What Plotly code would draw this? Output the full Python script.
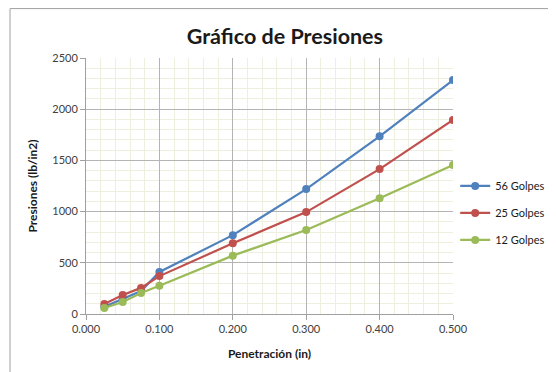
import plotly.graph_objects as go

penetracion = [0.025, 0.050, 0.075, 0.100, 0.200, 0.300, 0.400, 0.500]
golpes_56 = [70, 145, 225, 410, 770, 1220, 1735, 2285]
golpes_25 = [98, 186, 255, 370, 690, 995, 1415, 1895]
golpes_12 = [58, 117, 205, 275, 570, 820, 1130, 1455]

series = [
	("56 Golpes", golpes_56, "#4F81BD"),
	("25 Golpes", golpes_25, "#C0504D"),
	("12 Golpes", golpes_12, "#9BBB59"),
]

font_family = "Lato, 'Open Sans', sans-serif"

fig = go.Figure()

for i, (name, values, color) in enumerate(series):
	fig.add_trace(go.Scatter(
		x=penetracion, y=values,
		mode='lines+markers',
		name=name,
		legendgroup=str(i),
		line=dict(color=color, width=2.2),
		marker=dict(color=color, size=8)
	))

# the page body adds an 8px offset, so the figure is a bit bigger than the window
fig.update_layout(
	width=564, height=380,
	paper_bgcolor="white",
	plot_bgcolor="white",
	margin=dict(l=78, r=119, t=50, b=74),
	font=dict(family=font_family, size=11, color="#404040"),
	title=dict(
		text="<b>Gráfico de Presiones</b>",
		x=0.491, xanchor="center",
		y=0.924, yanchor="middle",
		font=dict(size=21.5, color="#1a1a1a")
	),
	legend=dict(
		x=1.006, xanchor="left",
		y=0.395, yanchor="middle",
		font=dict(size=11, color="#1a1a1a"),
		itemwidth=30,
		tracegroupgap=8,
		borderwidth=0,
		bgcolor="rgba(0,0,0,0)"
	),
	shapes=[
		# outer chart frame
		dict(type="line", xref="paper", yref="paper", x0=-0.207, x1=1.4, y0=1.193, y1=1.193,
			line=dict(color="#a0a0a0", width=1)),
		dict(type="line", xref="paper", yref="paper", x0=-0.207, x1=-0.207, y0=-0.4, y1=1.193,
			line=dict(color="#a0a0a0", width=1)),
	]
)

fig.update_xaxes(
	range=[0, 0.5],
	dtick=0.1,
	tickformat=".3f",
	automargin=False,
	showgrid=True, gridcolor="#b4b4b4", gridwidth=1,
	showline=True, linecolor="#a0a0a0",
	ticks="outside", ticklen=5, tickcolor="#a0a0a0",
	zeroline=False,
	minor=dict(dtick=0.02, showgrid=True, gridcolor="#EFEFDF"),
	title=dict(text="<b>Penetración (in)</b>", font=dict(size=12, color="#1a1a1a"), standoff=15)
)

fig.update_yaxes(
	range=[0, 2500],
	dtick=500,
	automargin=False,
	showgrid=True, gridcolor="#b4b4b4", gridwidth=1,
	showline=True, linecolor="#a0a0a0",
	ticks="outside", ticklen=5, tickcolor="#a0a0a0",
	zeroline=False,
	minor=dict(dtick=100, showgrid=True, gridcolor="#EFEFDF"),
	title=dict(text="<b>Presiones (lb/in2)</b>", font=dict(size=12, color="#1a1a1a"), standoff=12)
)

fig.write_html("out.html")
